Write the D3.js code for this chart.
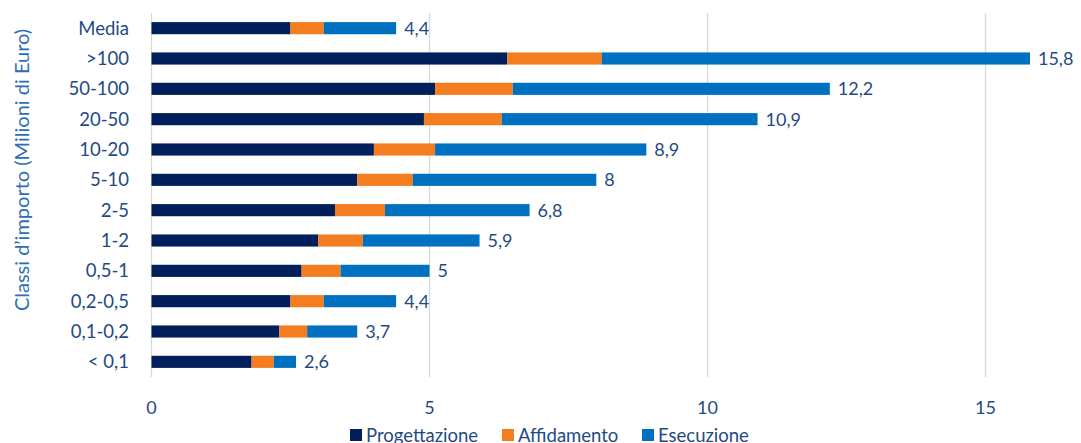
<!DOCTYPE html>
<html>
<head>
<meta charset="utf-8">
<script src="https://cdn.jsdelivr.net/npm/d3@7"></script>
<style>
  body { margin: 0; background: #fff; }
  svg { display: block; font-family: "Source Sans Pro", Lato, "Open Sans", sans-serif; }
</style>
</head>
<body>
<div id="chart"></div>
<script>
// --- data ---
const categories = ["Media", ">100", "50-100", "20-50", "10-20", "5-10", "2-5", "1-2", "0,5-1", "0,2-0,5", "0,1-0,2", "< 0,1"];
const progettazione = [2.5, 6.4, 5.1, 4.9, 4.0, 3.7, 3.3, 3.0, 2.7, 2.5, 2.3, 1.8];
const affidamento   = [0.6, 1.7, 1.4, 1.4, 1.1, 1.0, 0.9, 0.8, 0.7, 0.6, 0.5, 0.4];
const esecuzione    = [1.3, 7.7, 5.7, 4.6, 3.8, 3.3, 2.6, 2.1, 1.6, 1.3, 0.9, 0.4];
const totals        = ["4,4", "15,8", "12,2", "10,9", "8,9", "8", "6,8", "5,9", "5", "4,4", "3,7", "2,6"];
const xTicks = [0, 5, 10, 15];
const seriesNames = ["Progettazione", "Affidamento", "Esecuzione"];

const colors = ["#001f5b", "#f47d20", "#0070c0"];
const textColor = "#1f4a85";
const titleColor = "#2f6db5";

const width = 1081, height = 443;
const svg = d3.select("#chart").append("svg")
    .attr("width", width)
    .attr("height", height);

const x = d3.scaleLinear().domain([0, 15]).range([151.5, 985.5]);
const y = d3.scaleBand().domain(categories).range([13, 377]).paddingInner(0.6).paddingOuter(0.3);

// gridlines
svg.append("g").selectAll("line")
    .data(xTicks)
    .join("line")
    .attr("x1", d => x(d)).attr("x2", d => x(d))
    .attr("y1", 13).attr("y2", 377)
    .attr("stroke", "#d9d9d9")
    .attr("stroke-width", 1.3);

// x tick labels
svg.append("g").selectAll("text")
    .data(xTicks)
    .join("text")
    .attr("x", d => x(d))
    .attr("y", 414)
    .attr("text-anchor", "middle")
    .attr("fill", textColor)
    .attr("font-size", 18)
    .text(d => d);

// stacked bars
const rows = categories.map((c, i) => ({ cat: c, Progettazione: progettazione[i], Affidamento: affidamento[i], Esecuzione: esecuzione[i] }));
const stack = d3.stack().keys(seriesNames)(rows);

svg.append("g").selectAll("g")
    .data(stack)
    .join("g")
    .attr("fill", (d, i) => colors[i])
    .selectAll("rect")
    .data(d => d)
    .join("rect")
    .attr("x", d => x(d[0]))
    .attr("width", d => x(d[1]) - x(d[0]))
    .attr("y", d => y(d.data.cat))
    .attr("height", y.bandwidth());

// total labels
svg.append("g").selectAll("text")
    .data(rows)
    .join("text")
    .attr("x", (d, i) => x(progettazione[i] + affidamento[i] + esecuzione[i]) + 8)
    .attr("y", d => y(d.cat) + y.bandwidth() / 2)
    .attr("dy", "0.36em")
    .attr("fill", textColor)
    .attr("font-size", 18)
    .text((d, i) => totals[i]);

// category labels
svg.append("g").selectAll("text")
    .data(categories)
    .join("text")
    .attr("x", 129)
    .attr("y", d => y(d) + y.bandwidth() / 2)
    .attr("dy", "0.36em")
    .attr("text-anchor", "end")
    .attr("fill", textColor)
    .attr("font-size", 18.5)
    .text(d => d);

// y axis title
svg.append("text")
    .attr("transform", "translate(29,170) rotate(-90)")
    .attr("text-anchor", "middle")
    .attr("fill", titleColor)
    .attr("font-size", 20)
    .text("Classi d\u2019importo (Milioni di Euro)");

// legend
const legendX = [350, 502, 642];
const legend = svg.append("g").selectAll("g")
    .data(seriesNames)
    .join("g")
    .attr("transform", (d, i) => `translate(${legendX[i]},429)`);
legend.append("rect")
    .attr("width", 12).attr("height", 12)
    .attr("fill", (d, i) => colors[i]);
legend.append("text")
    .attr("x", 16)
    .attr("y", 6)
    .attr("dy", "0.38em")
    .attr("fill", textColor)
    .attr("font-size", 18.5)
    .text(d => d);
</script>
</body>
</html>
